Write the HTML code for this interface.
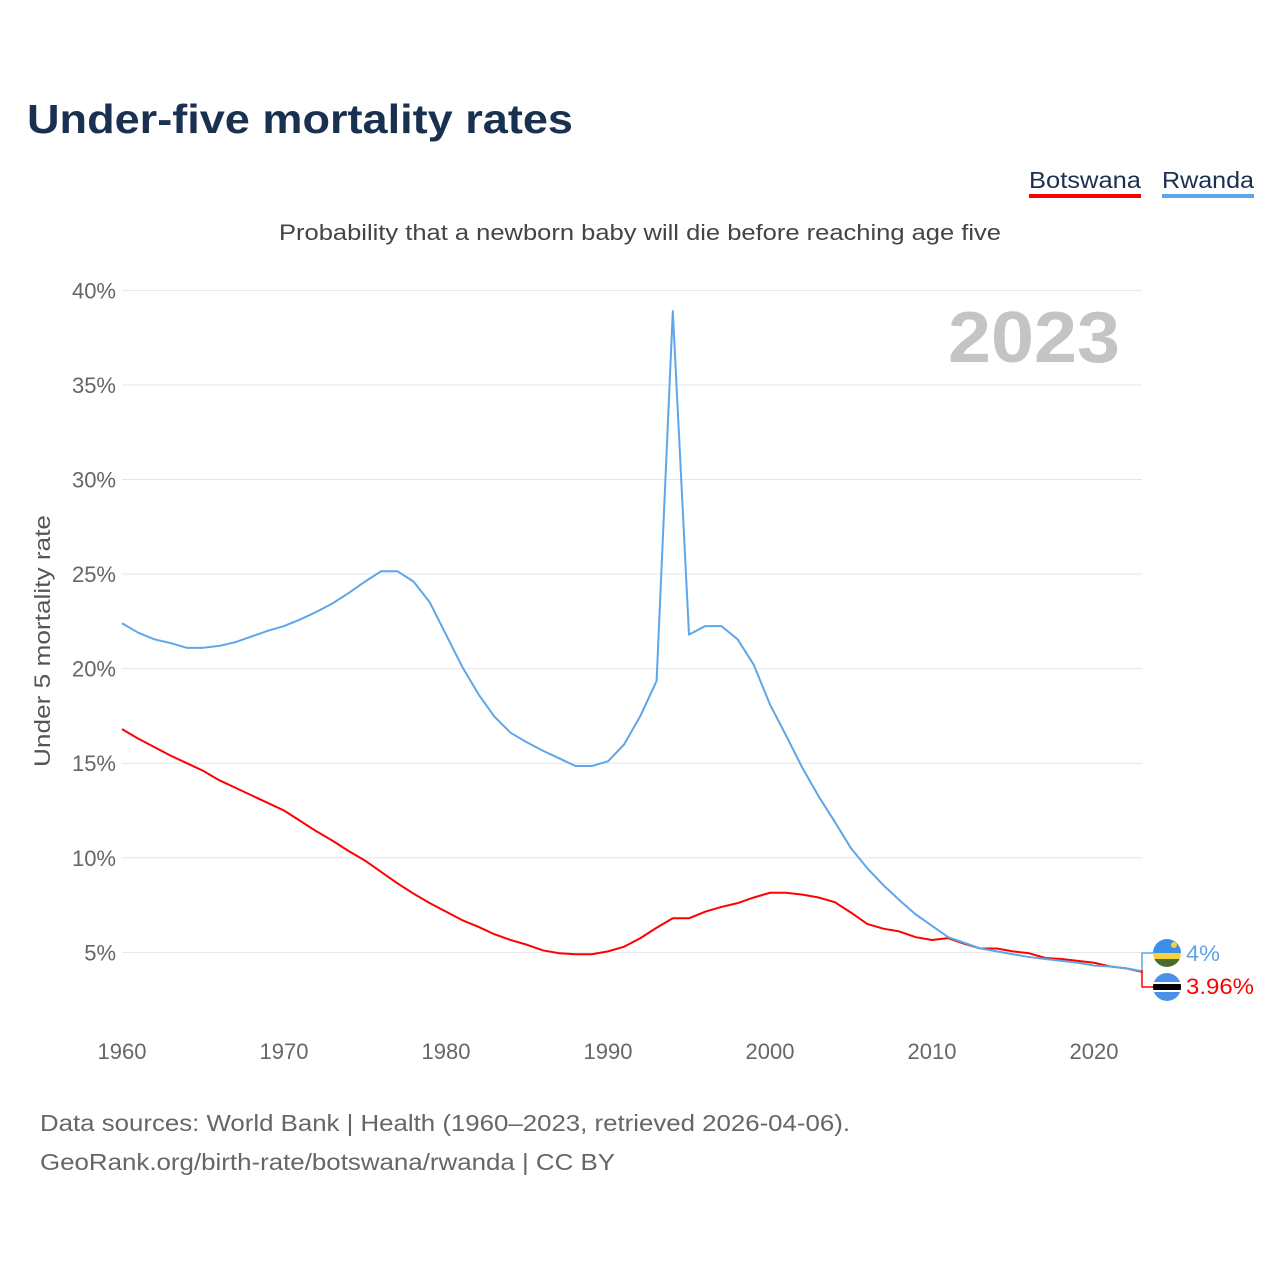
<!DOCTYPE html>
<html><head><meta charset="utf-8"><style>
body{margin:0;background:#fff;font-family:"Liberation Sans",sans-serif;}
svg text{font-family:"Liberation Sans",sans-serif;}
</style></head><body>
<svg width="1280" height="1280" viewBox="0 0 1280 1280" xmlns="http://www.w3.org/2000/svg">
<text x="27" y="133" font-size="41" font-weight="bold" fill="#1a3050" textLength="546" lengthAdjust="spacingAndGlyphs">Under-five mortality rates</text>
<g>
<text x="1029" y="188" font-size="23" fill="#1a3050" textLength="112" lengthAdjust="spacingAndGlyphs">Botswana</text>
<rect x="1029" y="194" width="112" height="4" fill="#ff0000"/></g>
<g>
<text x="1162" y="188" font-size="23" fill="#1a3050" textLength="92" lengthAdjust="spacingAndGlyphs">Rwanda</text>
<rect x="1162" y="194" width="92" height="4" fill="#5ea6ea"/></g>
<text x="279" y="240" font-size="22" fill="#444" textLength="722" lengthAdjust="spacingAndGlyphs">Probability that a newborn baby will die before reaching age five</text>
<text x="1120" y="362" font-size="72" font-weight="bold" fill="#c4c4c4" text-anchor="end" textLength="172" lengthAdjust="spacingAndGlyphs">2023</text>
<text transform="translate(50,767) rotate(-90)" font-size="22" fill="#555" textLength="252" lengthAdjust="spacingAndGlyphs">Under 5 mortality rate</text>
<g id="grid"></g><g id="xt"></g><g id="lines"></g>
<text x="40" y="1131" font-size="23" fill="#666" textLength="810" lengthAdjust="spacingAndGlyphs">Data sources: World Bank | Health (1960–2023, retrieved 2026-04-06).</text>
<text x="40" y="1170" font-size="23" fill="#666" textLength="575" lengthAdjust="spacingAndGlyphs">GeoRank.org/birth-rate/botswana/rwanda | CC BY</text>
<g>
<path d="M1142,970 V953 H1153" fill="none" stroke="#5ea6ea" stroke-width="1.5"/>
<clipPath id="c1"><circle cx="1167" cy="953" r="14"/></clipPath>
<g clip-path="url(#c1)"><rect x="1153" y="939" width="28" height="14" fill="#3b8fe8"/><rect x="1153" y="953" width="28" height="6" fill="#f5d33a"/><rect x="1153" y="959" width="28" height="8" fill="#4a6a2e"/><circle cx="1174" cy="945" r="3" fill="#f5d33a"/></g>
<text x="1186" y="961" font-size="22" fill="#5ea6ea" textLength="34" lengthAdjust="spacingAndGlyphs">4%</text></g>
<g>
<path d="M1142,970 V987 H1153" fill="none" stroke="#ff0000" stroke-width="1.5"/>
<clipPath id="c2"><circle cx="1167" cy="987" r="14"/></clipPath>
<g clip-path="url(#c2)"><rect x="1153" y="973" width="28" height="28" fill="#4a90e8"/><rect x="1153" y="982" width="28" height="10" fill="#fff"/><rect x="1153" y="984" width="28" height="6" fill="#000"/></g>
<text x="1186" y="994" font-size="22" fill="#ff0000" textLength="68" lengthAdjust="spacingAndGlyphs">3.96%</text></g>
</svg>
<script>
const years=[];for(let y=1960;y<=2023;y++)years.push(y);
const rwanda=[22.4,21.9,21.55,21.35,21.1,21.1,21.2,21.4,21.7,22.0,22.25,22.6,23.0,23.45,24.0,24.6,25.15,25.15,24.6,23.5,21.8,20.1,18.65,17.45,16.6,16.1,15.65,15.25,14.85,14.85,15.1,16.0,17.5,19.35,38.9,21.8,22.25,22.25,21.55,20.2,18.1,16.45,14.75,13.25,11.9,10.5,9.45,8.55,7.75,7.0,6.4,5.8,5.5,5.2,5.05,4.9,4.75,4.65,4.55,4.45,4.3,4.25,4.15,4.0];
const botswana=[16.8,16.3,15.85,15.4,15.0,14.6,14.1,13.7,13.3,12.9,12.5,11.95,11.4,10.9,10.35,9.85,9.25,8.65,8.1,7.6,7.15,6.7,6.35,5.95,5.65,5.4,5.1,4.95,4.9,4.9,5.05,5.3,5.75,6.3,6.8,6.8,7.15,7.4,7.6,7.9,8.15,8.15,8.05,7.9,7.65,7.1,6.5,6.25,6.1,5.8,5.65,5.75,5.45,5.2,5.2,5.05,4.95,4.7,4.65,4.55,4.45,4.25,4.15,3.96];
const yTicks=[5,10,15,20,25,30,35,40];
const xTicks=[1960,1970,1980,1990,2000,2010,2020];
const X=y=>122+(y-1960)*16.2, Y=v=>1046.9-v*18.914;
const NS='http://www.w3.org/2000/svg';
function mk(t,a,p){const e=document.createElementNS(NS,t);for(const k in a)e.setAttribute(k,a[k]);p.appendChild(e);return e;}
const g=document.getElementById('grid');
yTicks.forEach(v=>{
const l=mk('line',{x1:122,x2:1142,y1:Y(v),y2:Y(v),stroke:'#e6e6e6','stroke-width':1},g);


const t=mk('text',{x:116,y:Y(v)+8,'font-size':22,fill:'#666','text-anchor':'end'},g);t.textContent=v+'%';


});
const xt=document.getElementById('xt');
xTicks.forEach(v=>{
const t=mk('text',{x:X(v),y:1059,'font-size':22,fill:'#666','text-anchor':'middle'},xt);t.textContent=v;


});
const lg=document.getElementById('lines');
[[botswana,'#ff0000','botswana-line'],[rwanda,'#5ea6ea','rwanda-line']].forEach(([d,c,n])=>{
const p=mk('polyline',{points:d.map((v,i)=>X(years[i])+','+Y(v)).join(' '),fill:'none',stroke:c,'stroke-width':2,'stroke-linejoin':'round'},lg);


});
</script>
</body></html>
